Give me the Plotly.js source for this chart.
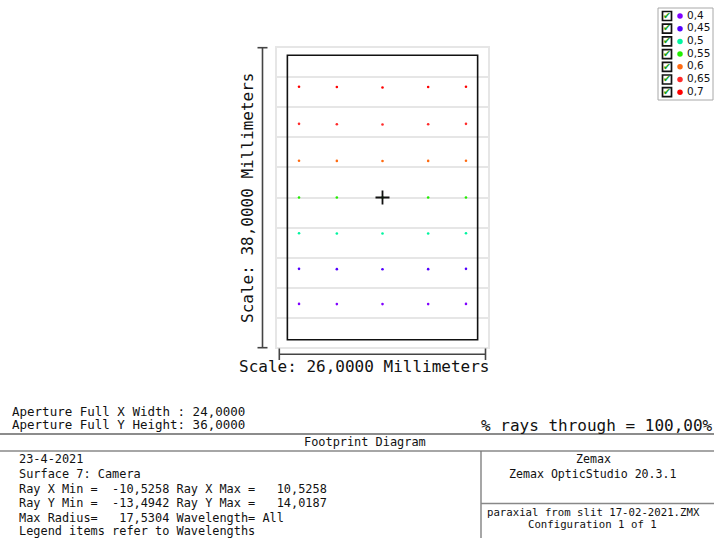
<!DOCTYPE html>
<html>
<head>
<meta charset="utf-8">
<script src="https://cdn.plot.ly/plotly-3.0.1.min.js"></script>
<style>html,body{margin:0;padding:0;background:#fff;}#chart{width:714px;height:538px;}</style>
</head>
<body>
<div id="chart"></div>
<script>
// ---- data ----
const wavelengths = ['0,4', '0,45', '0,5', '0,55', '0,6', '0,65', '0,7'];
const waveColors = ['#8000ff', '#5200ff', '#00f5a0', '#22ee00', '#ff6a10', '#ff2a2a', '#ff0000'];
const fieldX = [-10.53, -5.76, 0, 5.76, 10.53];
const rayY_04  = [-13.47, -13.49, -13.49, -13.49, -13.47];
const rayY_045 = [-9.03, -9.07, -9.08, -9.07, -9.03];
const rayY_05  = [-4.53, -4.55, -4.56, -4.55, -4.53];
const rayY_055 = [0, 0, 0, 0, 0];
const rayY_06  = [4.66, 4.63, 4.62, 4.63, 4.66];
const rayY_065 = [9.32, 9.28, 9.24, 9.28, 9.32];
const rayY_07  = [14.02, 13.98, 13.92, 13.98, 14.02];
const rayYByWave = [rayY_04, rayY_045, rayY_05, rayY_055, rayY_06, rayY_065, rayY_07];
const chiefRay = {x: [0], y: [0]};
const apertureXWidth = 24.0;
const apertureYHeight = 36.0;
const scaleX = 26.0, scaleY = 38.0;

const W = 714, H = 538;
const mono = 'DejaVu Sans Mono, monospace';
const px = (x) => x / W;
const py = (y) => 1 - y / H;

const traces = [];
wavelengths.forEach((w, i) => {
  traces.push({
    type: 'scatter', mode: 'markers', name: w, showlegend: false,
    x: fieldX, y: rayYByWave[i],
    marker: {size: 2.6, color: waveColors[i], line: {width: 0}},
    hoverinfo: 'skip'
  });
});
traces.push({
  type: 'scatter', mode: 'markers', showlegend: false,
  x: chiefRay.x, y: chiefRay.y,
  marker: {symbol: 'cross-thin', size: 10, line: {width: 1.8, color: '#111'}},
  hoverinfo: 'skip'
});

// custom legend (checkbox + dot + label)
const idx = wavelengths.map((_, i) => i);
traces.push({
  type: 'scatter', mode: 'markers', xaxis: 'x2', yaxis: 'y2', showlegend: false,
  x: idx.map(() => 9), y: idx,
  marker: {symbol: 'square', size: 9, color: '#fff', line: {width: 1.7, color: '#111'}},
  hoverinfo: 'skip'
});
traces.push({
  type: 'scatter', mode: 'text', xaxis: 'x2', yaxis: 'y2', showlegend: false,
  x: idx.map(() => 9), y: idx.map(i => i + 0.03), text: idx.map(() => '✔'),
  textfont: {family: 'DejaVu Sans', size: 9.5, color: '#16a016'},
  hoverinfo: 'skip'
});
traces.push({
  type: 'scatter', mode: 'markers', xaxis: 'x2', yaxis: 'y2', showlegend: false,
  x: idx.map(() => 22), y: idx,
  marker: {size: 5.5, color: waveColors, line: {width: 0}},
  hoverinfo: 'skip'
});
traces.push({
  type: 'scatter', mode: 'text', xaxis: 'x2', yaxis: 'y2', showlegend: false,
  x: idx.map(() => 29), y: idx, text: wavelengths, textposition: 'middle right',
  textfont: {family: 'DejaVu Sans', size: 10.5, color: '#111'},
  hoverinfo: 'skip'
});

const line = (x0, y0, x1, y1, color, width) => ({
  type: 'line', xref: 'paper', yref: 'paper',
  x0: px(x0), y0: py(y0), x1: px(x1), y1: py(y1),
  line: {color: color, width: width}
});

const barC = '#444';
const shapes = [
  // aperture rectangle
  {type: 'rect', xref: 'x', yref: 'y', x0: -apertureXWidth / 2, x1: apertureXWidth / 2,
   y0: -apertureYHeight / 2, y1: apertureYHeight / 2, line: {color: '#111', width: 1.6}, layer: 'above'},
  // vertical scale bar
  line(262.5, 47.7, 262.5, 347.7, barC, 1.6),
  line(257.5, 47.7, 267.5, 47.7, barC, 1.6),
  line(257.5, 347.7, 267.5, 347.7, barC, 1.6),
  // horizontal scale bar
  line(279.3, 354.3, 485.5, 354.3, barC, 1.6),
  line(279.3, 348.5, 279.3, 360, barC, 1.6),
  line(485.5, 348.5, 485.5, 360, barC, 1.6),
  // legend frame
  {type: 'rect', xref: 'paper', yref: 'paper', x0: px(658), x1: px(713), y0: py(100), y1: py(8),
   line: {color: '#a8a8a8', width: 1}},
  // bottom table
  line(0, 434, 714, 434, '#666', 1.3),
  line(0, 451, 714, 451, '#888', 1.3),
  line(481, 451, 481, 538, '#777', 1.3),
  line(481, 503.5, 714, 503.5, '#888', 1.3)
];

const ann = (text, x, y, size, anchor, extra) => Object.assign({
  text: text, xref: 'paper', yref: 'paper', x: px(x), y: py(y),
  xanchor: anchor || 'left', yanchor: 'middle', showarrow: false,
  xshift: (anchor || 'left') === 'left' ? -2 : 0,
  font: {family: mono, size: size, color: '#111'}
}, extra || {});

const annotations = [
  ann('Scale: ' + scaleY.toFixed(4).replace('.', ',') + ' Millimeters', 248, 198, 16, 'center', {textangle: -90}),
  ann('Scale: ' + scaleX.toFixed(4).replace('.', ',') + ' Millimeters', 363.5, 366, 16, 'center'),
  ann('Aperture Full X Width : ' + apertureXWidth.toFixed(4).replace('.', ','), 12, 411.5, 12.5),
  ann('Aperture Full Y Height: ' + apertureYHeight.toFixed(4).replace('.', ','), 12, 424.5, 12.5),
  ann('% rays through = 100,00%', 480.5, 425, 16),
  ann('Footprint Diagram', 365, 442, 11.9, 'center'),
  ann('23-4-2021', 19, 459, 11.9),
  ann('Surface 7: Camera', 19, 474.3, 11.9),
  ann('Ray X Min =  -10,5258 Ray X Max =   10,5258', 19, 488.8, 11.9),
  ann('Ray Y Min =  -13,4942 Ray Y Max =   14,0187', 19, 503.2, 11.9),
  ann('Max Radius=   17,5304 Wavelength= All', 19, 517.5, 11.9),
  ann('Legend items refer to Wavelengths', 19, 530.5, 11.9),
  ann('Zemax', 593, 459.3, 11.6, 'center'),
  ann('Zemax OpticStudio 20.3.1', 593, 473.5, 11.6, 'center'),
  ann('paraxial from slit 17-02-2021.ZMX', 486.5, 512, 10.7),
  ann('Configuration 1 of 1', 592.5, 524.5, 10.7, 'center')
];

const frameC = '#e6e6e6';
const layout = {
  width: W, height: H, autosize: false,
  margin: {l: 0, r: 0, t: 0, b: 0, pad: 0},
  paper_bgcolor: '#fff', plot_bgcolor: '#fff',
  showlegend: false,
  xaxis: {domain: [px(277.3), px(487.7)], range: [-13.27, 13.27], showgrid: false, zeroline: false,
          showticklabels: false, ticks: '', showline: true, mirror: true, linecolor: frameC, linewidth: 2, fixedrange: true},
  yaxis: {domain: [py(346.7), py(48.3)], range: [-18.885, 18.885], tick0: 0, dtick: 3.8, showgrid: true,
          gridcolor: '#e6e6e6', gridwidth: 2, zeroline: false, showticklabels: false, ticks: '',
          showline: true, mirror: true, linecolor: frameC, linewidth: 2, fixedrange: true},
  xaxis2: {domain: [px(658), px(713)], range: [0, 55], visible: false, anchor: 'y2', fixedrange: true},
  yaxis2: {domain: [py(100), py(8)], range: [6.614, -0.63], visible: false, anchor: 'x2', fixedrange: true},
  shapes: shapes,
  annotations: annotations
};

Plotly.newPlot('chart', traces, layout, {displayModeBar: false, staticPlot: true});
</script>
</body>
</html>
